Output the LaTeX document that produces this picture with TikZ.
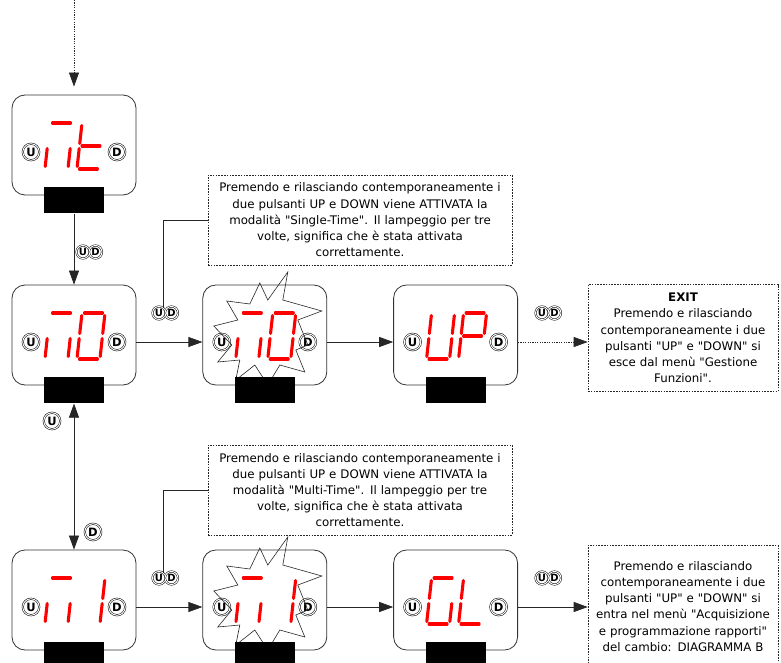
\documentclass[tikz,border=0pt]{standalone}
\usepackage{fontspec}
\setmainfont{DejaVu Sans}[Ligatures=TeXOff]
\usetikzlibrary{arrows.meta,positioning,calc}
\tikzset{
  disp/.style    = {draw=black!80, rectangle, rounded corners=13pt, line width=0.8pt,
                    minimum width=124pt, minimum height=100pt},
  key/.style     = {fill=black, rectangle, inner sep=0pt,
                    minimum width=60pt, minimum height=26pt},
  btn/.style     = {circle, draw=black, double=white, double distance=1pt,
                    line width=0.5pt, fill=white, inner sep=0pt, minimum size=16.5pt,
                    font=\fontsize{11.5}{11.5}\selectfont\bfseries},
  tag/.style     = {btn, minimum size=13pt, font=\fontsize{10}{10}\selectfont\bfseries},
  seg/.style     = {red, line width=3.1pt, line cap=round},
  burst/.style   = {draw=black!85, line width=0.6pt, line join=miter},
  note/.style    = {draw=black!85, dash pattern=on 1.6pt off 1.2pt, line width=0.6pt,
                    align=center, font=\fontsize{11.8}{16.2}\selectfont, inner sep=2pt},
  wire/.style    = {-{Triangle[length=14pt,width=10pt]}, line width=0.7pt, draw=black!85},
  wire2/.style   = {{Triangle[length=14pt,width=10pt]}-{Triangle[length=14pt,width=10pt]},
                    line width=0.7pt, draw=black!85},
  dotwire/.style = {wire, dash pattern=on 1.2pt off 1.2pt},
  plain/.style   = {line width=0.6pt, draw=black!85}
}
% one segment of a display digit
\newcommand{\segbar}[1]{%
  \if#1a\draw[seg] (2.5,0) -- (20.5,0);\fi
  \if#1b\draw[seg] (23,2.5) -- (23,20.5);\fi
  \if#1c\draw[seg] (23,25.5) -- (23,43.5);\fi
  \if#1d\draw[seg] (2.5,46) -- (20.5,46);\fi
  \if#1e\draw[seg] (0,25.5) -- (0,43.5);\fi
  \if#1f\draw[seg] (0,2.5) -- (0,20.5);\fi
  \if#1g\draw[seg] (2.5,23) -- (20.5,23);\fi}
% two slanted digits in a display box
\newcommand{\showdigits}[3]{%
  \begin{scope}[shift={($(#1)+(-24,-22)$)}, xslant=0.11]
    \foreach \s in {#2} {\segbar{\s}}
  \end{scope}
  \begin{scope}[shift={($(#1)+(8,-22)$)}, xslant=0.11]
    \foreach \s in {#3} {\segbar{\s}}
  \end{scope}}

\begin{document}
\begin{tikzpicture}[x=1pt, y=-1pt, node distance=66pt]
\clip (0,0) rectangle (781,663);

% --- display boxes ---
\node[disp] (mt) at (74,145) {};
\node[disp] (m0) at (74,335) {};
\node[disp, right=of m0] (m0f) {};
\node[disp, right=of m0f] (up) {};
\node[disp] (m1) at (74,600) {};
\node[disp, right=of m1] (m1f) {};
\node[disp, right=of m1f] (gl) {};

\foreach \b in {mt,m0,m0f,up,m1,m1f,gl} {
  \node[btn] (\b-u) at ($(\b)+(-43,7)$) {U};
  \node[btn] (\b-d) at ($(\b)+(43,7)$) {D};
}

% flashing
\foreach \b in {m0f,m1f} {
  \draw[burst, shift={(\b.center)}] (23,-63) -- (18,-35) -- (57,-24) -- (33,-15)
    -- (43,10) -- (31,15) -- (40,37) -- (15,30) -- (3,50) -- (-10,30) -- (-29,45)
    -- (-25,25) -- (-47,27) -- (-33,10) -- (-51,-9) -- (-27,-15) -- (-38,-34)
    -- (-15,-31) -- (-5,-52) -- (3,-35) -- cycle;
}

\foreach \b in {mt,m0,m0f,up,m1,m1f,gl} {
  \node[key] (\b-k) at ($(\b.south)+(0,5)$) {};
}

% --- digits ---
\showdigits{mt}{a,e,c}{f,e,g,d}
\showdigits{m0}{a,e,c}{a,b,c,d,e,f}
\showdigits{m0f}{a,e,c}{a,b,c,d,e,f}
\showdigits{up}{f,e,d,c,b}{a,b,g,f,e}
\showdigits{m1}{a,e,c}{b,c}
\showdigits{m1f}{a,e,c}{b,c}
\showdigits{gl}{a,f,e,d,c}{f,e,d}

% --- notes ---
\node[note, text width=300pt, minimum height=90pt] (nsingle) at (360,220)
  {Premendo e rilasciando contemporaneamente i\\
   due pulsanti UP e DOWN viene ATTIVATA la\\
   modalità "Single-Time". Il lampeggio per tre\\
   volte, significa che è stata attivata\\
   correttamente.};
\node[note, text width=300pt, minimum height=90pt] (nmulti) at (360,490)
  {Premendo e rilasciando contemporaneamente i\\
   due pulsanti UP e DOWN viene ATTIVATA la\\
   modalità "Multi-Time". Il lampeggio per tre\\
   volte, significa che è stata attivata\\
   correttamente.};
\node[note, text width=186pt, minimum height=107pt] (nexit) at (683,338)
  {\textbf{EXIT}\\
   Premendo e rilasciando\\
   contemporaneamente i due\\
   pulsanti "UP" e "DOWN" si\\
   esce dal menù "Gestione\\
   Funzioni".};
\node[note, text width=186pt, minimum height=122pt, anchor=north] (ngl) at (683,545)
  {Premendo e rilasciando\\
   contemporaneamente i due\\
   pulsanti "UP" e "DOWN" si\\
   entra nel menù "Acquisizione\\
   e programmazione rapporti"\\
   del cambio: DIAGRAMMA B};

% --- button labels on the connectors ---
\node[tag] (p1-u) at (83,252) {U};
\node[tag] (p1-d) at (95.5,252) {D};
\node[tag] (p2-u) at (159,313) {U};
\node[tag] (p2-d) at (171.5,313) {D};
\node[tag] (p3-u) at (542,313) {U};
\node[tag] (p3-d) at (554.5,313) {D};
\node[tag] (p4-u) at (159,578) {U};
\node[tag] (p4-d) at (171.5,578) {D};
\node[tag] (p5-u) at (542,578) {U};
\node[tag] (p5-d) at (554.5,578) {D};
\node[btn] (p6-u) at (52,421) {U};
\node[btn] (p7-d) at (93,532) {D};

% --- connectors ---
\coordinate (top) at (74,0);
\draw[dotwire, shorten >=8pt] (top) -- (mt);
\draw[wire] (mt-k) -- (m0);
\draw[wire2] (m0-k) -- (m1);
\draw[wire] (m0.east |- m0-u) -- (m0f.west |- m0-u);
\draw[wire] (m0f.east |- m0f-u) -- (up.west |- m0f-u);
\draw[dotwire] (up.east |- up-u) -- (nexit.west |- up-u);
\draw[wire] (m1.east |- m1-u) -- (m1f.west |- m1-u);
\draw[wire] (m1f.east |- m1f-u) -- (gl.west |- m1f-u);
\draw[wire] (gl.east |- gl-u) -- (ngl.west |- gl-u);

\draw[plain] (p2-u.north east) |- (nsingle.west);
\draw[plain] (p4-u.north east) |- (nmulti.west);

\end{tikzpicture}
\end{document}
